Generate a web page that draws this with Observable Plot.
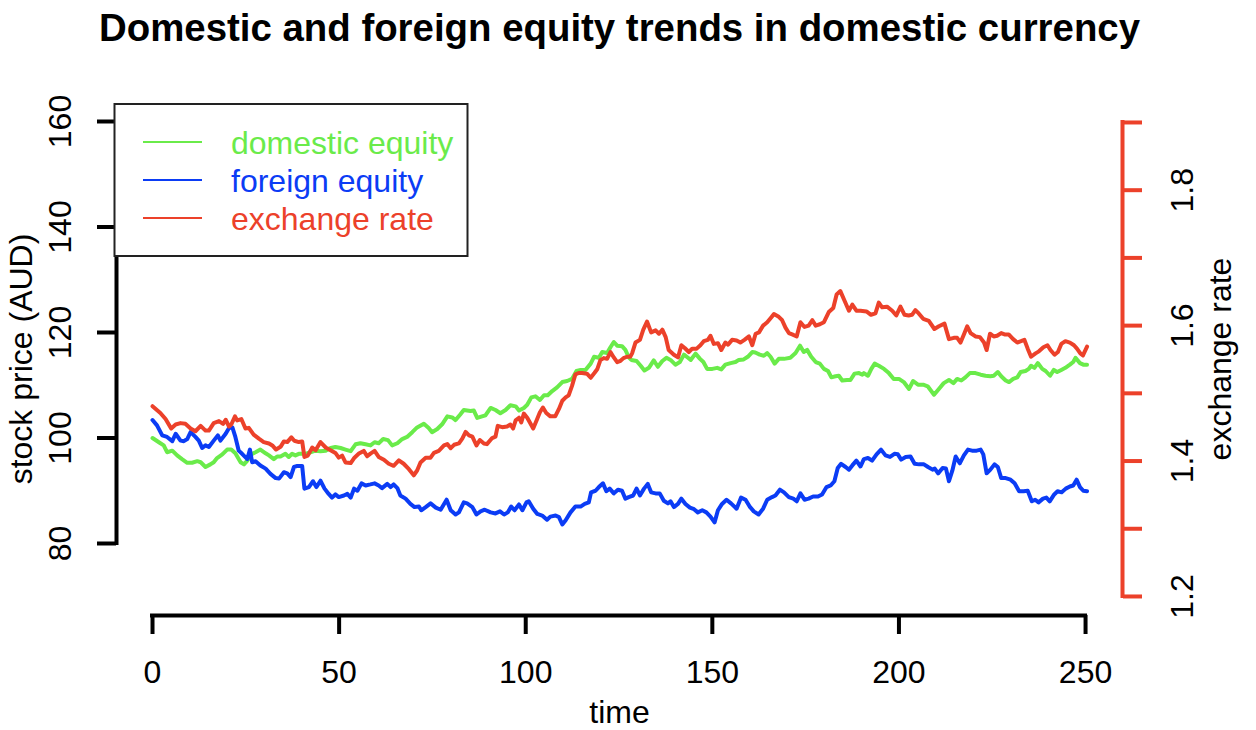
<!DOCTYPE html>
<html><head><meta charset="utf-8">
<script src="https://cdn.jsdelivr.net/npm/d3@7"></script>
<script src="https://cdn.jsdelivr.net/npm/@observablehq/plot@0.6"></script>
<style>
body{margin:0;background:#fff;}
#chart{position:relative;width:1256px;height:730px;}
#chart svg{position:absolute;left:0;top:0;}
</style></head><body><div id="chart"></div>
<script>
// [time, stock price AUD]
const domestic = [[0,100.0],[1.7,99.2],[3.0,98.6],[3.9,97.3],[5.3,97.6],[6.6,96.7],[7.9,96.0],[9.3,95.3],[10.6,95.3],[12.0,95.6],[12.9,95.4],[14.2,94.5],[15.5,95.0],[16.4,95.4],[17.3,96.2],[18.7,96.9],[20.0,97.8],[21.1,97.8],[22.2,97.1],[23.6,95.4],[24.5,95.0],[25.4,95.7],[26.7,97.0],[27.6,97.3],[28.9,97.8],[30.3,97.1],[31.2,96.7],[32.5,96.0],[33.4,96.5],[34.3,96.5],[35.6,97.0],[36.5,96.4],[37.4,97.0],[38.3,96.7],[39.2,97.0],[41.0,97.0],[42.3,97.3],[43.7,97.6],[45.0,97.5],[46.4,97.6],[47.7,98.1],[49.0,98.3],[50.4,98.1],[51.7,97.8],[53.1,97.5],[54.4,98.8],[55.7,99.0],[57.1,98.8],[58.4,98.6],[59.5,99.2],[60.6,99.0],[61.8,99.8],[63.1,99.6],[64.2,98.6],[65.6,99.0],[66.9,99.8],[68.2,100.2],[69.6,101.1],[70.9,102.0],[72.7,102.7],[74.0,101.9],[74.9,101.1],[76.3,101.7],[77.6,102.6],[79.0,104.1],[80.3,103.9],[81.2,103.4],[82.4,104.4],[83.4,105.3],[85.2,105.1],[86.1,105.2],[87.0,103.8],[88.3,104.1],[89.2,104.3],[90.6,105.7],[91.9,105.3],[93.2,104.7],[94.6,105.3],[95.9,106.2],[97.3,106.0],[98.2,105.2],[99.5,105.7],[100.4,106.3],[101.5,107.7],[102.6,107.9],[103.8,107.2],[104.9,108.1],[105.9,108.1],[107.1,108.9],[108.4,109.6],[109.8,110.6],[111.1,110.8],[112.4,111.2],[113.6,112.7],[114.7,112.9],[116.0,112.9],[117.4,114.1],[118.3,115.4],[119.6,115.2],[120.5,116.3],[121.8,116.1],[122.7,117.2],[123.6,118.2],[124.5,117.5],[125.8,117.4],[126.7,116.7],[127.6,115.3],[128.3,114.8],[129.7,114.6],[130.8,113.7],[131.8,112.8],[133.0,113.3],[134.3,114.7],[135.4,113.5],[136.6,114.6],[137.7,115.2],[138.8,114.8],[140.1,113.9],[141.3,114.4],[142.4,115.8],[143.3,115.3],[144.2,114.8],[145.5,116.0],[146.7,115.0],[147.6,114.4],[148.6,113.1],[150.0,113.1],[151.3,113.3],[152.4,113.0],[153.5,113.9],[154.9,114.2],[156.2,114.4],[157.1,114.8],[158.4,114.9],[159.5,115.4],[160.7,116.3],[161.5,116.2],[162.7,115.8],[163.8,115.6],[164.7,116.1],[165.6,115.4],[166.7,114.1],[167.8,115.0],[169.2,115.0],[170.9,115.2],[172.3,116.1],[173.5,117.5],[174.5,116.3],[175.4,116.7],[176.5,115.4],[177.7,114.4],[178.8,114.1],[179.9,113.1],[181.0,112.7],[181.9,111.5],[183.0,111.7],[183.9,111.8],[184.8,110.9],[186.1,111.0],[187.0,111.0],[188.1,112.2],[189.3,112.3],[190.2,112.0],[190.6,112.3],[191.7,111.8],[192.6,113.1],[193.5,114.1],[194.6,113.7],[196.0,113.1],[197.3,112.3],[198.6,111.2],[200.0,111.2],[201.3,110.6],[202.7,109.3],[203.8,110.8],[205.1,110.1],[206.5,110.1],[207.7,109.8],[209.4,108.2],[210.7,109.3],[212.0,110.4],[213.4,111.0],[214.6,110.4],[215.6,111.2],[216.7,110.9],[217.8,111.5],[219.0,112.3],[220.5,112.3],[221.9,112.0],[223.2,111.8],[224.5,111.7],[225.4,111.8],[226.5,112.5],[227.4,111.7],[228.6,110.9],[229.5,110.6],[230.6,111.2],[231.7,111.5],[232.6,112.5],[233.9,112.7],[234.8,113.1],[235.4,113.7],[236.3,113.3],[237.2,114.2],[238.4,113.1],[239.3,112.7],[240.5,111.8],[241.5,112.9],[242.4,112.5],[243.5,112.9],[244.6,113.3],[245.8,113.9],[246.7,114.4],[247.3,115.2],[248.5,114.2],[249.4,113.9],[250.4,113.9]];

const foreign = [[0,103.4],[1.2,102.4],[2.6,100.5],[3.9,100.2],[5.3,99.4],[6.2,100.8],[7.5,99.5],[8.4,99.4],[9.3,99.8],[10.2,101.1],[11.5,100.2],[12.4,99.5],[13.3,98.1],[14.2,98.6],[15.1,98.3],[16.4,99.5],[17.5,100.5],[18.2,99.5],[19.6,100.8],[20.5,101.9],[21.4,102.0],[22.2,100.2],[23.1,97.6],[24.0,97.0],[25.4,96.0],[26.1,97.8],[26.7,95.4],[27.6,95.6],[28.9,94.8],[30.3,94.2],[31.6,93.2],[33.0,92.4],[33.9,92.3],[35.2,93.5],[36.1,93.3],[37.0,92.6],[37.9,94.5],[38.8,94.7],[40.1,94.7],[40.7,90.4],[41.9,90.7],[43.0,91.8],[43.9,90.7],[45.0,91.9],[46.1,90.4],[47.2,89.4],[48.1,88.7],[49.0,89.3],[49.9,88.8],[51.3,89.1],[52.2,89.4],[53.1,88.7],[54.0,90.4],[54.9,90.0],[56.0,91.4],[57.1,91.0],[58.4,91.2],[59.5,91.4],[60.6,91.0],[61.5,90.5],[62.9,91.3],[63.8,90.7],[64.6,91.2],[65.6,90.5],[66.4,89.1],[67.8,88.5],[69.1,87.5],[70.2,86.9],[71.4,87.0],[72.0,86.3],[73.2,86.9],[74.5,87.6],[75.9,86.8],[77.2,86.4],[78.8,88.3],[79.9,86.3],[81.2,85.5],[82.1,85.9],[83.4,87.8],[84.3,87.6],[85.7,86.9],[86.8,85.5],[87.9,86.1],[89.0,86.4],[90.6,85.9],[91.9,85.7],[93.1,86.1],[94.2,85.5],[95.2,85.9],[96.1,87.0],[97.0,86.3],[98.2,87.4],[99.1,86.3],[100.2,87.8],[100.8,88.0],[102.0,86.6],[103.1,85.6],[104.4,85.3],[105.7,84.5],[106.6,85.1],[108.0,85.3],[108.9,85.0],[109.8,83.6],[110.7,84.4],[112.0,85.9],[113.3,87.0],[114.7,87.0],[115.8,87.5],[116.9,87.8],[117.5,89.7],[118.7,90.0],[119.6,90.7],[120.7,91.4],[121.6,89.9],[122.5,90.4],[123.6,89.5],[124.7,90.2],[125.8,90.0],[126.7,88.5],[127.6,88.8],[128.8,89.1],[129.7,90.4],[130.6,89.1],[131.7,90.4],[132.7,91.3],[133.6,89.7],[134.8,89.5],[135.9,89.5],[137.0,88.1],[138.1,87.6],[138.8,88.0],[139.7,86.9],[140.8,87.5],[141.7,88.5],[142.8,87.5],[144.0,86.8],[145.1,86.5],[146.1,85.9],[147.3,86.3],[148.4,85.9],[149.5,85.1],[150.6,84.0],[151.5,86.3],[152.6,87.5],[153.8,88.3],[155.0,87.6],[156.5,86.6],[157.7,88.7],[158.9,88.3],[160.0,87.0],[161.1,86.1],[162.4,85.5],[163.6,86.6],[164.7,88.3],[166.0,88.8],[166.9,89.1],[168.1,90.2],[169.2,89.7],[170.5,88.8],[171.7,88.5],[172.6,88.0],[173.6,89.5],[174.7,88.3],[175.8,88.5],[177.0,88.9],[178.3,88.9],[179.4,89.3],[180.6,90.7],[181.7,91.0],[182.7,91.8],[183.6,94.3],[184.5,95.1],[185.7,94.5],[186.6,94.0],[187.5,94.8],[188.6,95.7],[189.7,94.6],[190.6,96.0],[191.7,96.2],[192.8,95.7],[194.0,96.9],[195.2,97.8],[196.4,96.7],[197.6,96.4],[198.8,97.0],[199.7,96.9],[200.6,95.9],[201.8,96.4],[203.1,96.5],[204.2,95.1],[205.4,95.0],[206.7,95.0],[207.8,94.5],[209.0,94.0],[209.6,94.2],[210.5,93.3],[211.7,94.3],[212.6,94.2],[213.4,91.8],[214.3,93.8],[215.2,96.5],[216.3,95.2],[217.4,96.7],[218.5,97.8],[219.6,97.6],[220.8,97.6],[221.9,97.8],[222.6,96.9],[223.5,93.3],[224.5,94.0],[225.6,95.0],[226.5,94.5],[227.4,92.4],[228.6,92.4],[229.9,92.1],[231.0,91.4],[232.2,89.9],[233.4,89.9],[234.5,90.0],[235.6,88.0],[236.5,88.3],[237.4,87.8],[238.6,88.5],[239.5,88.7],[240.4,88.0],[241.6,89.3],[242.5,89.9],[243.6,89.7],[244.7,90.4],[245.8,90.8],[246.7,91.0],[247.6,92.1],[248.5,90.7],[249.4,90.0],[250.4,89.9]];

// [time, exchange rate]
const exchange = [[0,1.481],[2.1,1.471],[3.5,1.462],[5.0,1.448],[6.2,1.454],[7.5,1.456],[8.8,1.455],[10.2,1.448],[11.5,1.444],[12.9,1.452],[14.2,1.445],[15.1,1.445],[16.4,1.456],[17.8,1.459],[18.9,1.455],[19.6,1.461],[20.5,1.451],[21.1,1.454],[22.1,1.466],[22.7,1.460],[23.8,1.462],[24.9,1.448],[25.8,1.449],[27.1,1.439],[28.5,1.433],[29.8,1.428],[31.2,1.426],[32.1,1.423],[33.1,1.417],[34.3,1.421],[35.2,1.429],[36.1,1.428],[37.2,1.435],[38.0,1.430],[39.2,1.428],[40.1,1.429],[40.7,1.406],[41.6,1.408],[42.8,1.420],[43.7,1.416],[45.0,1.428],[46.4,1.420],[47.7,1.416],[49.0,1.412],[49.9,1.405],[50.8,1.408],[51.7,1.398],[53.1,1.397],[54.1,1.405],[55.3,1.411],[56.6,1.415],[57.5,1.407],[58.4,1.411],[59.5,1.415],[60.6,1.406],[62.0,1.402],[63.3,1.396],[64.6,1.393],[66.0,1.401],[67.3,1.396],[68.7,1.388],[70.0,1.379],[70.9,1.386],[71.8,1.398],[73.2,1.405],[74.5,1.405],[75.4,1.412],[76.7,1.415],[78.1,1.423],[79.0,1.425],[79.9,1.419],[80.8,1.424],[82.1,1.426],[83.0,1.433],[83.9,1.443],[84.8,1.438],[85.7,1.436],[86.8,1.423],[87.7,1.431],[88.8,1.426],[89.6,1.425],[91.0,1.434],[91.9,1.436],[92.5,1.452],[93.7,1.450],[95.0,1.451],[95.9,1.454],[96.6,1.448],[97.3,1.460],[98.2,1.464],[98.8,1.457],[99.5,1.470],[100.4,1.464],[101.3,1.455],[102.0,1.448],[102.9,1.460],[103.8,1.472],[104.6,1.479],[105.5,1.471],[106.6,1.466],[107.9,1.466],[108.9,1.477],[109.8,1.489],[110.7,1.494],[111.5,1.497],[112.4,1.511],[113.3,1.528],[114.2,1.530],[115.1,1.530],[116.4,1.529],[117.4,1.523],[118.4,1.530],[119.2,1.536],[120.0,1.549],[120.9,1.552],[121.8,1.551],[122.7,1.561],[123.6,1.553],[124.5,1.546],[125.4,1.548],[126.2,1.552],[127.1,1.554],[128.0,1.554],[128.5,1.559],[129.4,1.575],[130.6,1.579],[131.5,1.594],[132.5,1.606],[133.6,1.590],[134.8,1.593],[135.7,1.588],[136.6,1.594],[137.5,1.583],[138.3,1.564],[139.7,1.557],[140.8,1.553],[141.7,1.571],[142.6,1.567],[143.7,1.561],[144.6,1.566],[145.8,1.566],[146.8,1.571],[147.7,1.577],[148.8,1.579],[149.5,1.585],[150.4,1.573],[151.5,1.574],[152.4,1.564],[153.5,1.575],[154.2,1.572],[155.3,1.579],[156.5,1.578],[157.5,1.575],[158.6,1.579],[159.8,1.584],[160.7,1.571],[161.6,1.588],[162.5,1.590],[163.6,1.600],[164.7,1.605],[165.6,1.611],[166.5,1.617],[167.8,1.613],[168.7,1.608],[169.6,1.597],[170.5,1.589],[171.4,1.587],[172.6,1.584],[173.6,1.605],[174.7,1.598],[175.8,1.600],[176.8,1.608],[177.7,1.600],[178.8,1.602],[179.9,1.605],[181.2,1.620],[182.4,1.626],[183.3,1.646],[184.3,1.651],[185.4,1.637],[186.6,1.622],[187.5,1.631],[188.6,1.622],[189.7,1.622],[191.3,1.621],[192.5,1.616],[193.7,1.618],[194.6,1.634],[195.5,1.627],[196.8,1.628],[198.2,1.622],[199.3,1.615],[200.4,1.628],[201.5,1.616],[202.6,1.615],[203.5,1.616],[204.4,1.623],[205.3,1.618],[206.5,1.610],[208.0,1.607],[209.5,1.595],[210.7,1.599],[212.2,1.603],[213.4,1.580],[214.7,1.582],[215.6,1.582],[216.5,1.575],[217.4,1.587],[218.3,1.599],[219.2,1.589],[220.5,1.584],[221.7,1.583],[222.8,1.575],[223.5,1.564],[224.4,1.588],[225.4,1.584],[226.3,1.585],[227.4,1.589],[228.3,1.587],[229.4,1.587],[230.6,1.580],[231.7,1.575],[232.7,1.577],[233.6,1.579],[234.5,1.566],[235.4,1.554],[236.6,1.559],[237.5,1.562],[238.7,1.568],[239.8,1.571],[240.6,1.564],[241.7,1.557],[242.6,1.561],[243.5,1.573],[244.6,1.577],[245.8,1.575],[246.9,1.571],[247.7,1.566],[248.6,1.559],[249.3,1.556],[250.4,1.569]];

const xTicks = [0, 50, 100, 150, 200, 250];
const leftTicks = [80, 100, 120, 140, 160];
const rightTicks = [1.2, 1.3, 1.4, 1.5, 1.6, 1.7, 1.8, 1.9];
const rightLabels = [1.2, 1.4, 1.6, 1.8];
const seriesNames = ["domestic equity", "foreign equity", "exchange rate"];
const seriesColors = ["#6AEB4A", "#0B3CF5", "#EC412A"];
const titleText = "Domestic and foreign equity trends in domestic currency";
const xLabel = "time";
const yLabel = "stock price (AUD)";
const y2Label = "exchange rate";

const xDomain = [-9.65, 259.9];
const yDomain = [66.35, 163.6];
const y2Domain = [1.1719, 1.9295];

const W = 1256, H = 730;
const M = {top: 102, right: 134, bottom: 115, left: 116};
const FONT = "'Liberation Sans', Arial, Helvetica, sans-serif";

const frame = {
  width: W, height: H,
  marginTop: M.top, marginRight: M.right, marginBottom: M.bottom, marginLeft: M.left,
  style: {fontFamily: FONT, fontSize: "32px", background: "transparent", overflow: "visible", color: "black"}
};

const plotA = Plot.plot({
  ...frame,
  x: {domain: xDomain},
  y: {domain: yDomain},
  marks: [
    Plot.ruleY([yDomain[0]], {x1: xTicks[0], x2: xTicks[xTicks.length - 1], stroke: "black", strokeWidth: 4, strokeLinecap: "square"}),
    Plot.axisX({anchor: "bottom", ticks: xTicks, tickSize: 19, tickPadding: 26, strokeWidth: 4, fontSize: 32, label: null, tickFormat: d => String(d)}),
    Plot.ruleX([xDomain[0]], {y1: leftTicks[0], y2: leftTicks[leftTicks.length - 1], stroke: "black", strokeWidth: 4, strokeLinecap: "square"}),
    Plot.axisY({anchor: "left", ticks: leftTicks, tickSize: 19, tickPadding: 27, tickRotate: -90, strokeWidth: 4, fontSize: 32, label: null, tickFormat: d => String(d)}),
    Plot.line(domestic, {x: d => d[0], y: d => d[1], stroke: seriesColors[0], strokeWidth: 4}),
    Plot.line(foreign, {x: d => d[0], y: d => d[1], stroke: seriesColors[1], strokeWidth: 4}),
    Plot.text([titleText], {text: d => d, frameAnchor: "top", dy: 40 - M.top, lineAnchor: "bottom", textAnchor: "middle", fontSize: 38.4, fontWeight: "bold", fill: "black"}),
    Plot.text([xLabel], {text: d => d, frameAnchor: "bottom", dy: 722 - (H - M.bottom), lineAnchor: "bottom", textAnchor: "middle", fontSize: 32, fill: "black"}),
    Plot.text([yLabel], {text: d => d, frameAnchor: "left", rotate: -90, dx: 31 - M.left, lineAnchor: "bottom", textAnchor: "middle", fontSize: 32, fill: "black"})
  ]
});

const plotB = Plot.plot({
  ...frame,
  x: {domain: xDomain, axis: null},
  y: {domain: y2Domain, axis: null},
  marks: [
    Plot.ruleX([xDomain[1]], {y1: rightTicks[0], y2: rightTicks[rightTicks.length - 1], stroke: seriesColors[2], strokeWidth: 4, strokeLinecap: "square"}),
    Plot.axisY({anchor: "right", ticks: rightTicks, tickSize: 19, stroke: seriesColors[2], strokeWidth: 4, label: null, tickFormat: () => ""}),
    Plot.axisY({anchor: "right", ticks: rightLabels, tickSize: 0, tickPadding: 70, tickRotate: -90, fontSize: 32, fill: "black", label: null, tickFormat: d => d.toFixed(1)}),
    Plot.line(exchange, {x: d => d[0], y: d => d[1], stroke: seriesColors[2], strokeWidth: 4}),
    Plot.text([y2Label], {text: d => d, frameAnchor: "right", rotate: -90, dx: 1230 - (W - M.right), lineAnchor: "bottom", textAnchor: "middle", fontSize: 32, fill: "black"})
  ]
});

const chart = document.getElementById("chart");
chart.appendChild(plotA);
chart.appendChild(plotB);

// legend (drawn on top, like R's legend())
const leg = d3.select(chart).append("svg").attr("width", W).attr("height", H)
  .style("font-family", FONT);
leg.append("rect").attr("x", 114.5).attr("y", 104).attr("width", 353).attr("height", 152)
  .attr("fill", "white").attr("stroke", "#222").attr("stroke-width", 2);
seriesNames.forEach((name, i) => {
  const cy = 142 + i * 38;
  leg.append("line").attr("x1", 143).attr("x2", 202).attr("y1", cy).attr("y2", cy)
    .attr("stroke", seriesColors[i]).attr("stroke-width", 2);
  leg.append("text").attr("x", 231).attr("y", cy + 11.5).attr("font-size", 32)
    .attr("fill", seriesColors[i]).text(name);
});
</script>
</body></html>
